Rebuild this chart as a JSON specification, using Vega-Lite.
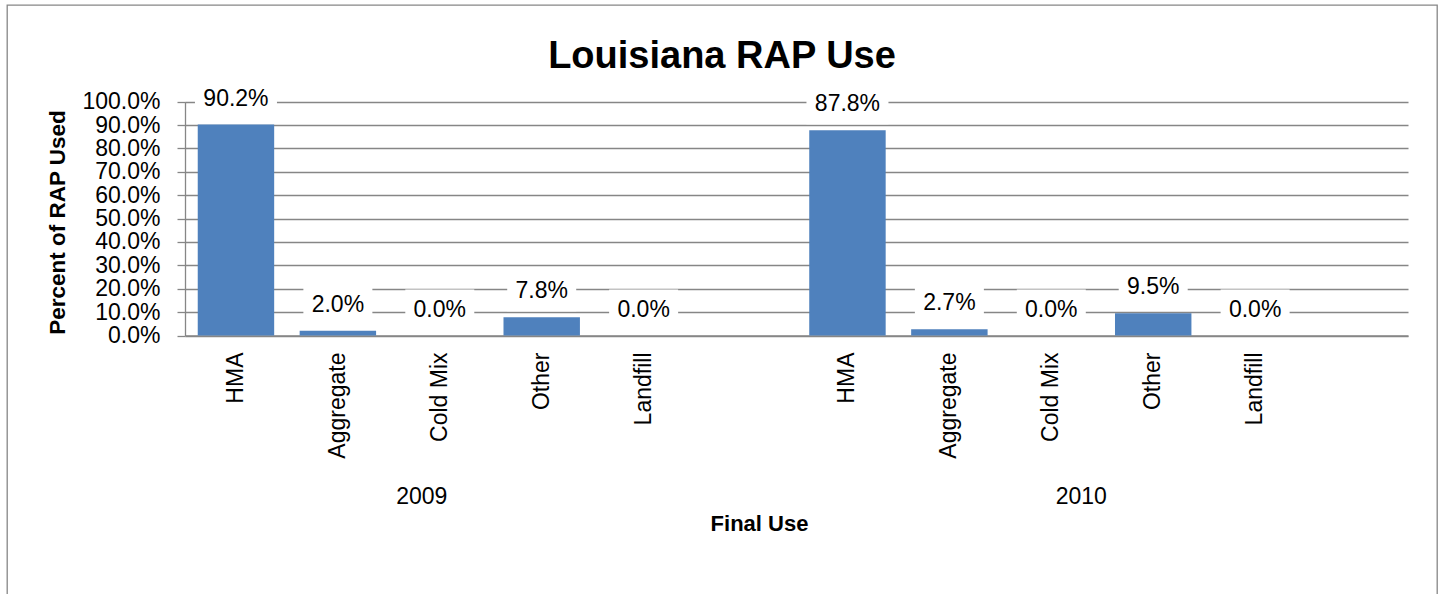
{
  "$schema": "https://vega.github.io/schema/vega-lite/v6.json",
  "autosize": {"type": "none"},
  "padding": {"left": 7, "top": 5, "right": 8, "bottom": 0},
  "width": 1430,
  "height": 600,
  "background": "white",
  "config": {
    "view": {"stroke": "#868686", "strokeWidth": 1.3},
    "font": "Liberation Sans"
  },
  "title": {
    "text": "Louisiana RAP Use",
    "font": "Liberation Sans",
    "fontSize": 38,
    "fontWeight": "bold",
    "color": "black",
    "anchor": "middle",
    "frame": "group",
    "orient": "top",
    "baseline": "alphabetic",
    "offset": -101
  },
  "data": {
    "values": [
      {"year": "2009", "use": "HMA", "value": 0.902},
      {"year": "2009", "use": "Aggregate", "value": 0.020},
      {"year": "2009", "use": "Cold Mix", "value": 0.0},
      {"year": "2009", "use": "Other", "value": 0.078},
      {"year": "2009", "use": "Landfill", "value": 0.0},
      {"year": "2010", "use": "HMA", "value": 0.878},
      {"year": "2010", "use": "Aggregate", "value": 0.027},
      {"year": "2010", "use": "Cold Mix", "value": 0.0},
      {"year": "2010", "use": "Other", "value": 0.095},
      {"year": "2010", "use": "Landfill", "value": 0.0}
    ]
  },
  "encoding": {
    "x": {
      "field": "year",
      "type": "nominal",
      "sort": ["2009", "2010"],
      "scale": {"range": [178, 1401], "paddingInner": 0, "paddingOuter": 0},
      "axis": {
        "title": "Final Use",
        "titleFont": "Liberation Sans",
        "titleFontSize": 22,
        "titleFontWeight": "bold",
        "titleColor": "black",
        "titleX": 752,
        "titleY": 187.5,
        "titleAlign": "center",
        "titleBaseline": "middle",
        "labelAngle": 0,
        "labelFont": "Liberation Sans",
        "labelFontSize": 23,
        "labelColor": "black",
        "labelBaseline": "middle",
        "labelPadding": 160.5,
        "labelOffset": {"condition": {"test": "datum.value == '2009'", "value": -69}, "value": -21},
        "ticks": false,
        "tickSize": 0,
        "domainColor": "#868686",
        "domainWidth": 1.3,
        "grid": false,
        "offset": -269.5
      }
    },
    "xOffset": {
      "field": "use",
      "type": "nominal",
      "scale": {
        "domain": ["HMA", "Aggregate", "Cold Mix", "Other", "Landfill", ""],
        "paddingInner": 0.25,
        "paddingOuter": 0.125
      }
    },
    "y": {
      "field": "value",
      "type": "quantitative",
      "scale": {"domain": [0, 1], "range": [330.5, 96.7], "nice": false},
      "axis": {
        "values": [0, 0.1, 0.2, 0.3, 0.4, 0.5, 0.6, 0.7, 0.8, 0.9, 1.0],
        "format": ".1%",
        "title": "Percent of RAP Used",
        "titleFont": "Liberation Sans",
        "titleFontSize": 22.5,
        "titleFontWeight": "bold",
        "titleColor": "black",
        "titleAngle": 270,
        "titleAlign": "center",
        "titleBaseline": "middle",
        "titleX": -128,
        "titleY": 217,
        "labelFont": "Liberation Sans",
        "labelFontSize": 23,
        "labelColor": "black",
        "labelPadding": 17,
        "labelOverlap": false,
        "labelBaseline": "middle",
        "tickSize": 8,
        "tickColor": "#868686",
        "tickWidth": 1.3,
        "domainColor": "#868686",
        "domainWidth": 1.3,
        "grid": true,
        "gridColor": "#868686",
        "gridWidth": 1.3,
        "offset": -178
      }
    }
  },
  "layer": [
    {
      "mark": {"type": "bar", "color": "#4F81BD"}
    },
    {
      "mark": {"type": "point", "filled": true, "color": "white", "opacity": 1, "strokeWidth": 0, "yOffset": -26},
      "encoding": {
        "shape": {"condition": {"test": "datum.value >= 0.1", "value": "M-1,-0.49H1V0.49H-1Z"}, "value": "M-1,-0.58H1V0.58H-1Z"},
        "size": {"condition": {"test": "datum.value >= 0.1", "value": 6724}, "value": 4761}
      }
    },
    {
      "mark": {"type": "text", "dy": -26, "baseline": "middle", "font": "Liberation Sans", "fontSize": 23, "color": "black"},
      "encoding": {
        "text": {"field": "value", "type": "quantitative", "format": ".1%"}
      }
    },
    {
      "mark": {"type": "text", "angle": 270, "align": "right", "baseline": "middle", "dx": -17, "font": "Liberation Sans", "fontSize": 23, "color": "black"},
      "encoding": {
        "y": {"datum": 0},
        "text": {"field": "use", "type": "nominal"}
      }
    }
  ]
}
